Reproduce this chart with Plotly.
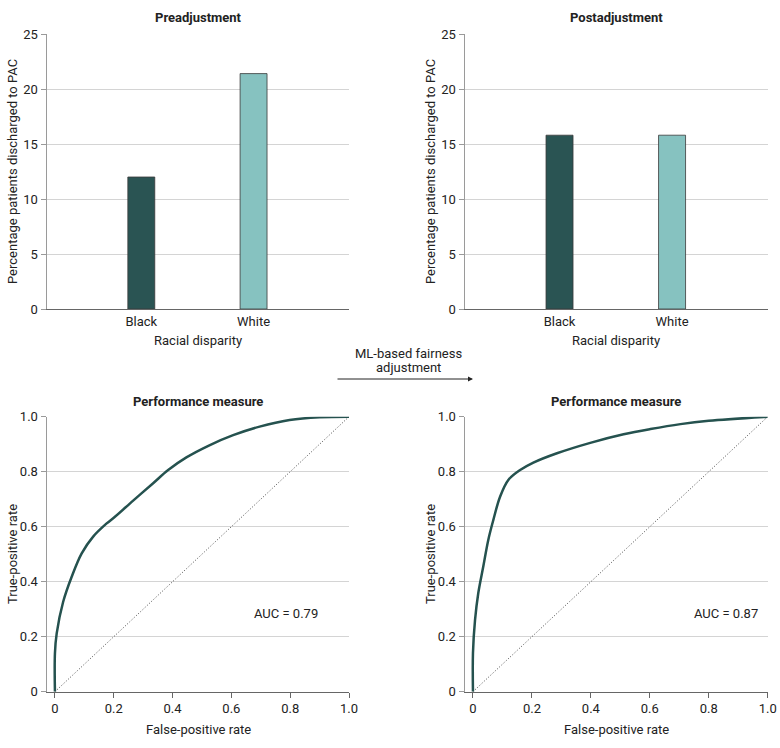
import plotly.graph_objects as go
from plotly.subplots import make_subplots

# ---- data ----
groups = ["Black", "White"]
pre_pct = [12.0, 21.4]
post_pct = [15.8, 15.8]

roc_pre_fpr = [0, 0.0, 0.006, 0.028, 0.057, 0.091, 0.130, 0.176, 0.204, 0.266, 0.334, 0.385, 0.447, 0.527, 0.606, 0.696, 0.798, 0.90, 1.0]
roc_pre_tpr = [0, 0.14, 0.212, 0.327, 0.418, 0.503, 0.564, 0.612, 0.636, 0.695, 0.758, 0.806, 0.852, 0.897, 0.933, 0.964, 0.988, 0.998, 1.0]

roc_post_fpr = [0, 0.0, 0.007, 0.018, 0.035, 0.052, 0.069, 0.092, 0.12, 0.16, 0.205, 0.285, 0.398, 0.511, 0.602, 0.704, 0.80, 1.0]
roc_post_tpr = [0, 0.14, 0.26, 0.358, 0.455, 0.552, 0.624, 0.709, 0.77, 0.806, 0.833, 0.867, 0.905, 0.936, 0.955, 0.973, 0.985, 1.0]

auc_pre = 0.79
auc_post = 0.87

bar_colors = ["#2a5453", "#86c2c0"]
line_color = "#25524f"
FONT = "Roboto, Arial"
W, H = 780, 748

fig = make_subplots(rows=2, cols=2)

fig.add_trace(go.Bar(x=groups, y=pre_pct, marker=dict(color=bar_colors, line=dict(color="#3a3a3a", width=0.8)),
                     width=0.24, showlegend=False), row=1, col=1)
fig.add_trace(go.Bar(x=groups, y=post_pct, marker=dict(color=bar_colors, line=dict(color="#3a3a3a", width=0.8)),
                     width=0.24, showlegend=False), row=1, col=2)

for (fpr, tpr, r, c) in [(roc_pre_fpr, roc_pre_tpr, 2, 1), (roc_post_fpr, roc_post_tpr, 2, 2)]:
    fig.add_trace(go.Scatter(x=[0, 1], y=[0, 1], mode="lines",
                             line=dict(color="#333333", width=0.9, dash="1px,2px"), showlegend=False), row=r, col=c)
    fig.add_trace(go.Scatter(x=fpr, y=tpr, mode="lines", line=dict(color=line_color, width=2.5, shape="spline", smoothing=1.0),
                             showlegend=False), row=r, col=c)

def PX(x):
    return x / W

def PY(y):
    return 1 - y / H

left_x = [PX(47), PX(349)]
right_x = [PX(465), PX(767.7)]
top_y = [PY(309), PY(34)]
bot_y = [PY(691.7), PY(416.7)]

tickfont = dict(family=FONT, size=13, color="#222222")
grid = "#d4d4d4"
axline = "#9a9a9a"

for i, (dx, dy) in enumerate([(left_x, top_y), (right_x, top_y), (left_x, bot_y), (right_x, bot_y)], start=1):
    xa = "xaxis" if i == 1 else f"xaxis{i}"
    ya = "yaxis" if i == 1 else f"yaxis{i}"
    is_bar = i <= 2
    fig.layout[xa].update(domain=dx, automargin=False, showgrid=False, zeroline=False,
                          showline=True, linecolor="#666666", linewidth=1, tickfont=tickfont, mirror=False,
                          ticklabeloverflow="allow")
    fig.layout[ya].update(domain=dy, automargin=False, showgrid=True, gridcolor=grid, gridwidth=1, zeroline=False,
                          showline=True, linecolor=axline, linewidth=1.5, ticks="outside", ticklen=5,
                          tickcolor=axline, tickfont=tickfont)
    if is_bar:
        fig.layout[xa].update(range=[-0.84, 1.85], ticks="", type="category")
        fig.layout[ya].update(range=[0, 25], tickvals=[0, 5, 10, 15, 20, 25], ticktext=["0", "5", "10", "15", "20", "25"])
    else:
        fig.layout[xa].update(range=[-0.027, 1.0], tickvals=[0, 0.2, 0.4, 0.6, 0.8, 1.0],
                              ticktext=["0", "0.2", "0.4", "0.6", "0.8", "1.0"], ticks="outside", ticklen=5, tickcolor="#666666")
        fig.layout[ya].update(range=[0, 1.0], tickvals=[0, 0.2, 0.4, 0.6, 0.8, 1.0],
                              ticktext=["0", "0.2", "0.4", "0.6", "0.8", "1.0"])

def ann(text, x, y, size=13, bold=False, angle=0):
    fig.add_annotation(text=f"<b>{text}</b>" if bold else text, x=PX(x), y=PY(y), xref="paper", yref="paper",
                       showarrow=False, textangle=angle, font=dict(family=FONT, size=size, color="#222222"),
                       xanchor="center", yanchor="middle")

ann("Preadjustment", 198, 18, bold=True)
ann("Postadjustment", 616, 18, bold=True)
ann("Performance measure", 198, 401, bold=True)
ann("Performance measure", 616, 401, bold=True)
ann("Percentage patients discharged to PAC", 12, 172, angle=-90)
ann("Percentage patients discharged to PAC", 430, 172, angle=-90)
ann("Racial disparity", 198, 340)
ann("Racial disparity", 616, 340)
ann("True-positive rate", 12, 554, angle=-90)
ann("True-positive rate", 430, 554, angle=-90)
ann("False-positive rate", 198, 729)
ann("False-positive rate", 616, 729)
ann("ML-based fairness", 408, 353)
ann("adjustment", 408, 367)

fig.add_annotation(x=PX(473), y=PY(379), xref="paper", yref="paper", ax=-137, ay=0, axref="pixel", ayref="pixel",
                   showarrow=True, arrowhead=2, arrowsize=1, arrowwidth=1, arrowcolor="#222222", text="")

fig.add_annotation(text=f"AUC = {auc_pre:.2f}", x=0.786, y=0.283, xref="x3", yref="y3", showarrow=False,
                   font=dict(family=FONT, size=13, color="#222222"))
fig.add_annotation(text=f"AUC = {auc_post:.2f}", x=0.86, y=0.283, xref="x4", yref="y4", showarrow=False,
                   font=dict(family=FONT, size=13, color="#222222"))

fig.update_layout(width=W, height=H, margin=dict(l=0, r=0, t=0, b=0), plot_bgcolor="white", paper_bgcolor="white",
                  font=dict(family=FONT, size=13, color="#222222"), bargap=0, hovermode=False)

fig.write_html("out.html", config={"displayModeBar": False, "staticPlot": True},
               post_script="document.body.style.margin='0px';document.body.style.overflow='hidden';")
